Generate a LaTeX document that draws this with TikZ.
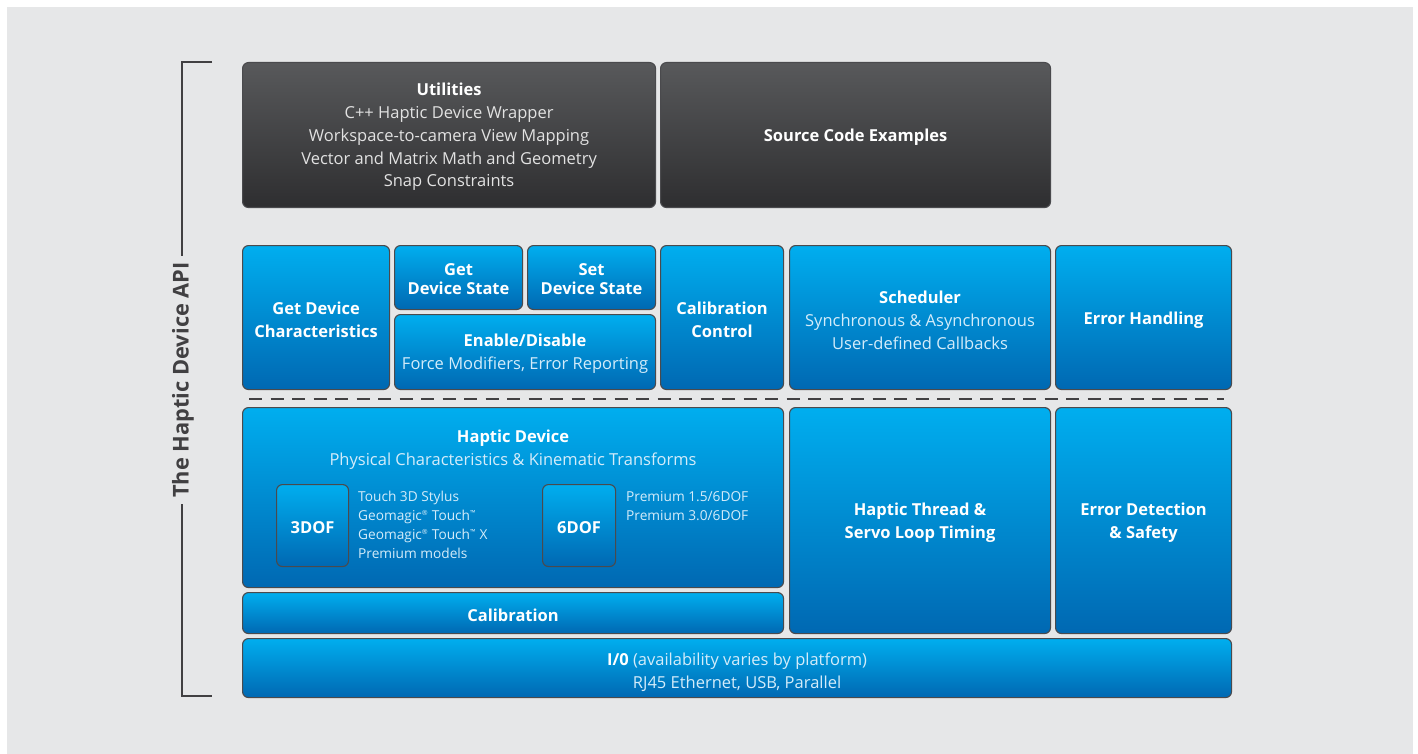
\documentclass[tikz,border=0pt]{standalone}
\usepackage{fontspec}
\setmainfont{Open Sans}
\usetikzlibrary{calc}
\definecolor{bg}{HTML}{E6E7E8}
\definecolor{edge}{HTML}{4A4A4D}
\definecolor{bluetop}{HTML}{00AEEF}
\definecolor{bluebot}{HTML}{0068B2}
\definecolor{darktop}{HTML}{58595B}
\definecolor{darkbot}{HTML}{2E2E30}
\definecolor{subblue}{HTML}{D4ECFA}
\definecolor{subgray}{HTML}{E2E2E2}
\definecolor{api}{HTML}{414042}
\tikzset{
  x=1pt,y=-1pt,
  boxbase/.style={draw=edge, line width=1.1pt, rounded corners=6pt, anchor=north west, inner sep=0pt, text=white},
  bluebox/.style={boxbase, top color=bluetop, bottom color=bluebot},
  darkbox/.style={boxbase, top color=darktop, bottom color=darkbot},
  lbl/.style={text=white, align=center, font=\fontsize{16.5}{22.8}\selectfont, inner sep=0pt, yshift=-2pt},
  lbltight/.style={text=white, align=center, font=\fontsize{16.5}{19}\selectfont, inner sep=0pt, yshift=-1.5pt},
  lst/.style={anchor=north west, align=left, text=subblue, font=\fontsize{13.7}{19}\selectfont, inner sep=0pt},
  apiline/.style={draw=api, line width=2.2pt},
  sep/.style={draw=api, line width=2.6pt, dash pattern=on 13pt off 8.5pt},
}
\newcommand{\sub}[1]{{\color{subblue}#1}}
\newcommand{\subg}[1]{{\color{subgray}#1}}
\newcommand{\regm}{\textsuperscript{\scriptsize ®}}
\newcommand{\tmm}{\textsuperscript{\scriptsize ™}}
\begin{document}
\begin{tikzpicture}
\fill[white] (0,0) rectangle (1418,754);
\fill[bg] (7,7) rectangle (1413,754);
\useasboundingbox (0,0) rectangle (1418,754);

% top dark boxes
\node[darkbox, minimum width=413, minimum height=145] (util) at (242,62) {};
\node[lbl] (utilt) at (util.center) {\textbf{Utilities}\\\subg{C++ Haptic Device Wrapper}\\\subg{Workspace-to-camera View Mapping}\\\subg{Vector and Matrix Math and Geometry}\\\subg{Snap Constraints}};
\node[darkbox, minimum width=390, minimum height=145] (src) at (660,62) {};
\node[lbl] (srct) at (src.center) {\textbf{Source Code Examples}};

% middle row
\node[bluebox, minimum width=147, minimum height=144] (gdc) at (242,245) {};
\node[lbl] at (gdc.center) {\textbf{Get Device}\\\textbf{Characteristics}};
\node[bluebox, minimum width=128, minimum height=64] (gds) at (394,245) {};
\node[lbltight] at (gds.center) {\textbf{Get}\\\textbf{Device State}};
\node[bluebox, minimum width=128, minimum height=64] (sds) at (527,245) {};
\node[lbltight] at (sds.center) {\textbf{Set}\\\textbf{Device State}};
\node[bluebox, minimum width=261, minimum height=75] (ena) at (394,314) {};
\node[lbl] at (ena.center) {\textbf{Enable/Disable}\\\sub{Force Modifiers, Error Reporting}};
\node[bluebox, minimum width=123, minimum height=144] (calc) at (660,245) {};
\node[lbl] at (calc.center) {\textbf{Calibration}\\\textbf{Control}};
\node[bluebox, minimum width=261, minimum height=144] (sch) at (789,245) {};
\node[lbl] at ($(sch.center)+(0,1)$) {\textbf{Scheduler}\\\sub{Synchronous \& Asynchronous}\\\sub{User-defined Callbacks}};
\node[bluebox, minimum width=176, minimum height=144] (err) at (1055,245) {};
\node[lbl] at ($(err.center)+(0,1)$) {\textbf{Error Handling}};

% dashed separator
\coordinate (sepL) at (249,399);
\coordinate (sepR) at (1224,399);
\draw[sep] (sepL) -- (sepR);

% lower rows
\node[bluebox, minimum width=541, minimum height=180] (hd) at (242,407) {};
\node[lbl, anchor=north] (hdt) at ($(hd.north)+(0,21)$) {\textbf{Haptic Device}\\\sub{Physical Characteristics \& Kinematic Transforms}};
\node[bluebox, minimum width=72, minimum height=82] (d3) at (276,484) {};
\node[lbl] at (d3.center) {\textbf{3DOF}};
\node[lst] (l3) at (358,491) {Touch 3D Stylus\\Geomagic\regm{} Touch\tmm\\Geomagic\regm{} Touch\tmm{} X\\Premium models};
\node[bluebox, minimum width=73, minimum height=82] (d6) at (542,484) {};
\node[lbl] at (d6.center) {\textbf{6DOF}};
\node[lst] (l6) at (626,491) {Premium 1.5/6DOF\\Premium 3.0/6DOF};
\node[bluebox, minimum width=541, minimum height=41] (cal) at (242,592) {};
\node[lbl] at (cal.center) {\textbf{Calibration}};
\node[bluebox, minimum width=261, minimum height=226] (ht) at (789,407) {};
\node[lbl] at (ht.center) {\textbf{Haptic Thread \&}\\\textbf{Servo Loop Timing}};
\node[bluebox, minimum width=176, minimum height=226] (eds) at (1055,407) {};
\node[lbl] at (eds.center) {\textbf{Error Detection}\\\textbf{\& Safety}};
\node[bluebox, minimum width=989, minimum height=59] (io) at (242,638) {};
\node[lbl] at ($(io.center)+(0,2)$) {\textbf{I/0} \sub{(availability varies by platform)}\\\sub{RJ45 Ethernet, USB, Parallel}};

% API bracket
\node[text=api, rotate=90, font=\fontsize{21.8}{26}\selectfont\bfseries, inner sep=0pt] (apit) at (183,380) {The Haptic Device API};
\coordinate (bt) at (212,62);
\coordinate (bb) at (212,696);
\coordinate (vt) at (182,62);
\coordinate (vb) at (182,696);
\draw[apiline] (bt) -- (vt) -- (182,256);
\draw[apiline] (182,504) -- (vb) -- (bb);
\end{tikzpicture}
\end{document}
